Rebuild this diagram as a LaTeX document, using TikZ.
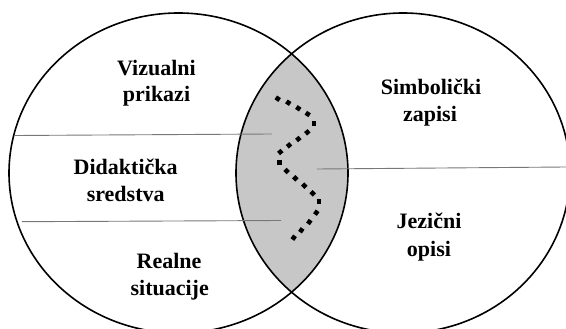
\documentclass[tikz,border=0pt]{standalone}
\usepackage{fontspec}
\setmainfont{Liberation Serif}
\definecolor{lensgray}{RGB}{199,199,199}
\definecolor{linegray}{RGB}{120,120,120}
\begin{document}
\begin{tikzpicture}[x=1pt,y=-1pt,
  outline/.style={draw=black,line width=1.6pt},
  divider/.style={draw=linegray,line width=0.9pt},
  lbl/.style={font=\fontsize{22}{26}\selectfont\bfseries,anchor=base,inner sep=0pt},
  sqdot/.style={fill=black,inner sep=0pt,minimum size=4.6pt,shape=rectangle}]
\useasboundingbox (0,0) rectangle (566,329);
\clip (0,0) rectangle (566,329);
\fill[white] (0,0) rectangle (566,329);
% lens
\begin{scope}
  \clip (178.5,173) ellipse [x radius=169.5, y radius=160];
  \fill[lensgray] (403,173) ellipse [x radius=167, y radius=160];
\end{scope}
\draw[outline] (178.5,173) ellipse [x radius=169.5, y radius=160];
\draw[outline] (403,173) ellipse [x radius=167, y radius=160];
% dividers
\coordinate (a1) at (15,135.5);
\coordinate (b1) at (272,134);
\coordinate (a2) at (22,221.7);
\coordinate (b2) at (281,220.5);
\coordinate (a3) at (317,169);
\coordinate (b3) at (566,167);
\draw[divider] (a1) -- (b1);
\draw[divider] (a2) -- (b2);
\draw[divider] (a3) -- (b3);
% dotted zigzag
\foreach \x/\y/\a [count=\i] in {
  277.7/98.7/-34, 288.3/102.7/-34, 298.3/108.3/-34, 307.7/114/-34,
  314/123.3/0,
  307.3/132.3/40, 298.3/139/40, 289/145.3/40, 280.3/152/40,
  279.3/162.3/0,
  286.7/171/-45, 295.3/178.3/-45, 304.3/185.7/-45, 312.7/193.3/-45,
  319/201.7/0,
  316.3/212.7/55, 309.3/222/55, 301.3/230.3/55, 293.7/237.7/55}
  \node[sqdot,rotate=\a] (d\i) at (\x,\y) {};
% labels
\node[lbl] (v1) at (156.5,75.7) {Vizualni};
\node[lbl] (v2) at (156.5,101.7) {prikazi};
\node[lbl] (d1l) at (125.7,175) {Didaktička};
\node[lbl] (d2l) at (125.7,201.7) {sredstva};
\node[lbl] (r1) at (169,268) {Realne};
\node[lbl] (r2) at (169.7,295) {situacije};
\node[lbl] (s1) at (431,95) {Simbolički};
\node[lbl] (s2) at (430,121.5) {zapisi};
\node[lbl] (j1) at (429,229) {Jezični};
\node[lbl] (j2) at (429,256) {opisi};
\end{tikzpicture}
\end{document}
